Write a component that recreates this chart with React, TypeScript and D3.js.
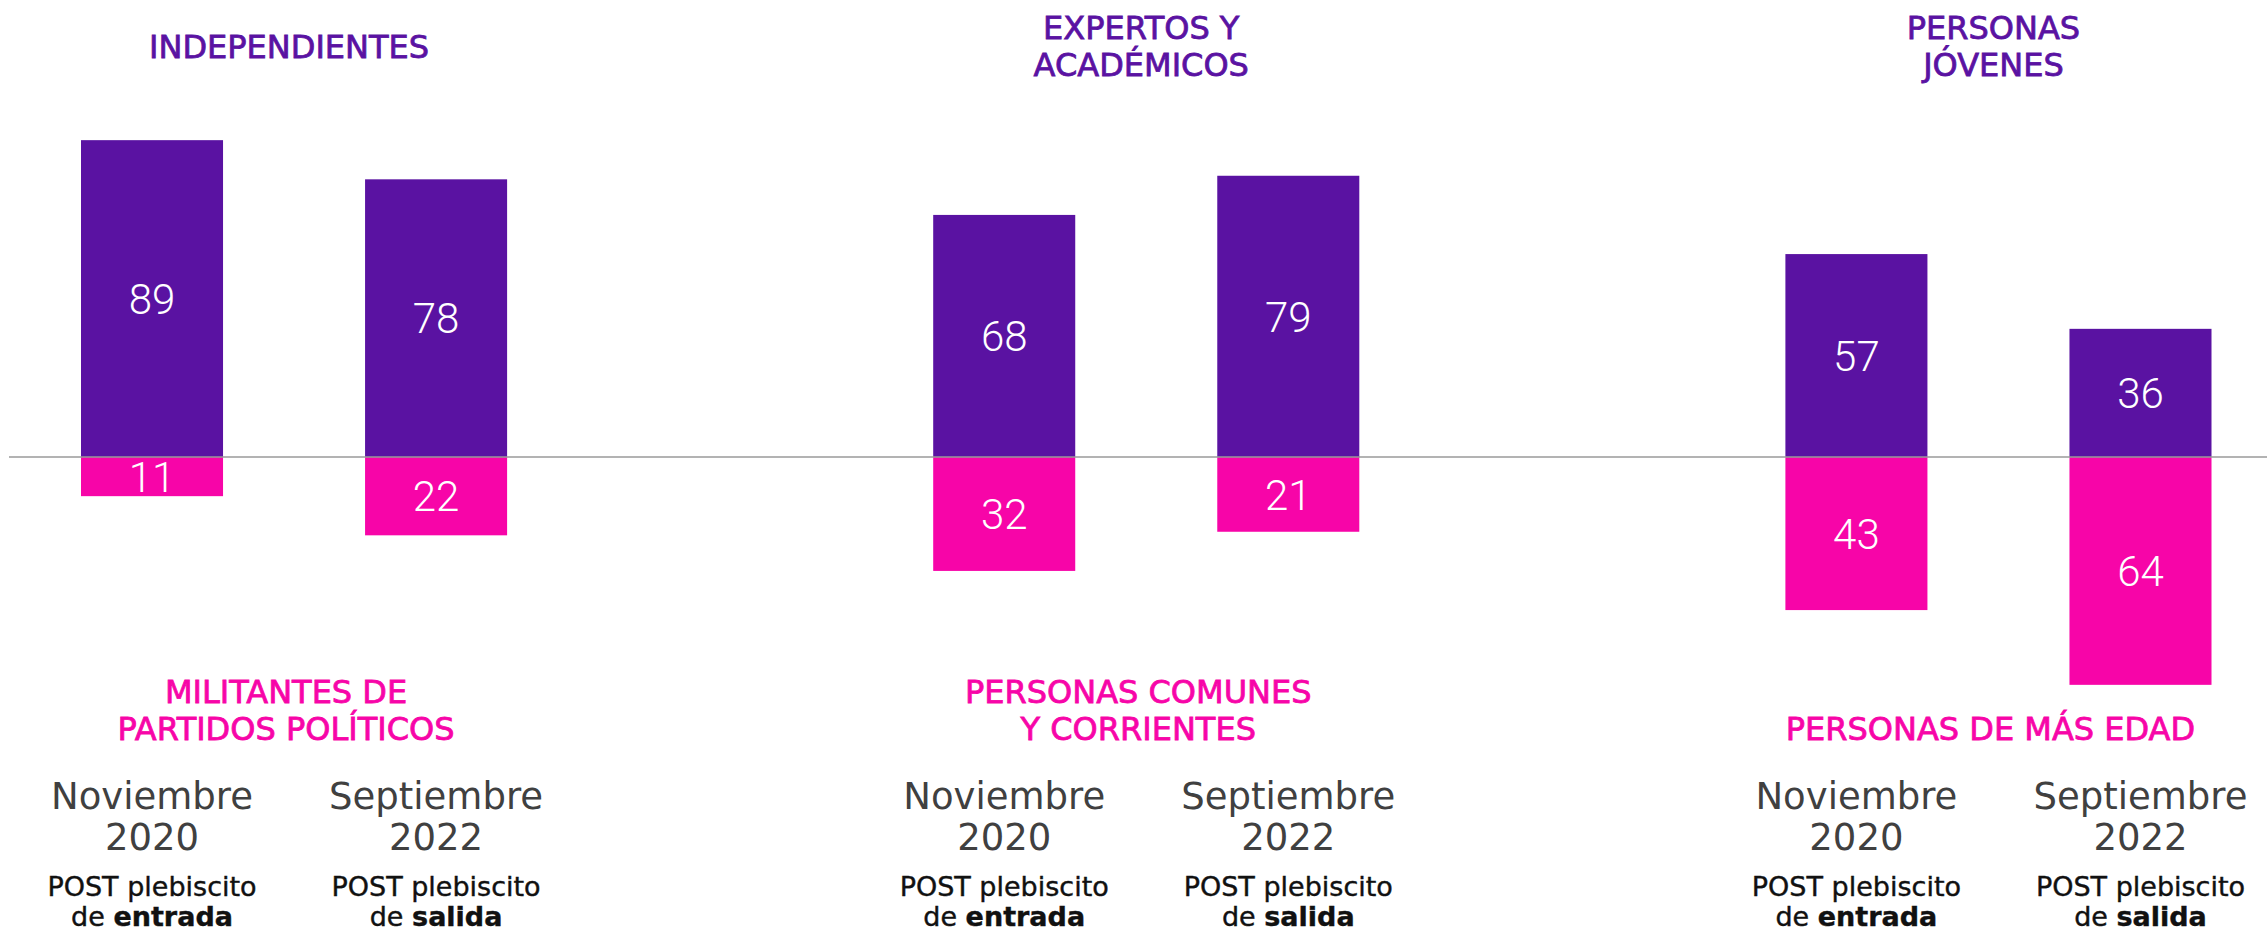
import React from 'react';
import * as d3 from 'd3';

// data
const groups = ['independientes', 'expertos', 'jovenes'];
const topTitles = [['INDEPENDIENTES'], ['EXPERTOS Y', 'ACADÉMICOS'], ['PERSONAS', 'JÓVENES']];
const bottomTitles = [['MILITANTES DE', 'PARTIDOS POLÍTICOS'], ['PERSONAS COMUNES', 'Y CORRIENTES'], ['PERSONAS DE MÁS EDAD']];
const periods = ['nov2020', 'sep2022'];
const periodMonth = ['Noviembre', 'Septiembre'];
const periodYear = ['2020', '2022'];
const periodKind = ['entrada', 'salida'];
const topValues = [[89, 78], [68, 79], [57, 36]];
const bottomValues = [[11, 22], [32, 21], [43, 64]];

const W = 2267, H = 934;
const PURPLE = '#5a12a2';
const PINK = '#f705a8';
const titleFont = '"DejaVu Sans", sans-serif';

const App = () => {
    const baseY = 457;

    const gx = d3.scaleBand()
        .domain(groups)
        .range([81, 2211.5])
        .paddingInner(0.5)
        .paddingOuter(0);

    const bx = d3.scaleBand()
        .domain(periods)
        .range([0, gx.bandwidth()])
        .paddingInner(0.5)
        .paddingOuter(0);

    const y = d3.scaleLinear()
        .domain([-100, 100])
        .range([baseY + 356, baseY - 356]);

    const bars = groups.map(function(g, gi) {
        return periods.map(function(p, pi) {
            const x0 = (gx(g) as number) + (bx(p) as number);
            const bw = bx.bandwidth();
            const cx = x0 + bw / 2;
            const tv = topValues[gi][pi];
            const bv = bottomValues[gi][pi];
            const yTop = y(tv), yBot = y(-bv);
            return (
                <g key={g + p}>
                    <rect fill={PURPLE} x={x0} y={yTop} width={bw} height={y(0) - yTop}/>
                    <rect fill={PINK} x={x0} y={y(0)} width={bw} height={yBot - y(0)}/>
                    <text x={cx} y={(yTop + y(0)) / 2} dy="0.36em" textAnchor="middle"
                          fill="#fff" fontFamily="Roboto, sans-serif" fontWeight={300} fontSize={42}>{tv}</text>
                    <text x={cx} y={(yBot + y(0)) / 2} dy="0.36em" textAnchor="middle"
                          fill="#fff" fontFamily="Roboto, sans-serif" fontWeight={300} fontSize={42}>{bv}</text>
                    <text x={cx} y={809} textAnchor="middle" fill="#404040"
                          fontFamily={titleFont} fontSize={37}>
                        <tspan x={cx}>{periodMonth[pi]}</tspan>
                        <tspan x={cx} dy={41}>{periodYear[pi]}</tspan>
                    </text>
                    <text x={cx} y={896} textAnchor="middle" fill="#111" stroke="#111" strokeWidth={0.4}
                          fontFamily={titleFont} fontSize={27}>
                        <tspan x={cx}>POST plebiscito</tspan>
                        <tspan x={cx} dy={30}>de <tspan fontWeight="bold">{periodKind[pi]}</tspan></tspan>
                    </text>
                </g>
            );
        });
    });

    const titles = groups.map(function(g, gi) {
        const cx = (gx(g) as number) + gx.bandwidth() / 2 - 5;
        const top = topTitles[gi];
        const bottom = bottomTitles[gi];
        const lh = 37.5;
        const topStart = 57.5 - (top.length - 1) * lh / 2;
        const bottomStart = 740 - (bottom.length - 1) * lh;
        return (
            <g key={g}>
                {top.map((t, i) => (
                    <text key={'t' + i} x={cx} y={topStart + i * lh} textAnchor="middle" fill={PURPLE}
                          stroke={PURPLE} strokeWidth={0.8}
                          fontFamily={titleFont} fontSize={32}>{t}</text>
                ))}
                {bottom.map((t, i) => (
                    <text key={'b' + i} x={cx - 3} y={bottomStart + i * lh} textAnchor="middle" fill={PINK}
                          stroke={PINK} strokeWidth={0.8}
                          fontFamily={titleFont} fontSize={32}>{t}</text>
                ))}
            </g>
        );
    });

    return (
        <div style={{ position: 'absolute', left: 0, top: 0 }}>
            <svg width={W} height={H} style={{ display: 'block', background: '#fff' }}>
                {bars}
                <line x1={9} x2={W} y1={y(0)} y2={y(0)} stroke="#9a9a9a" strokeWidth={1.5}/>
                {titles}
            </svg>
        </div>
    );
};

export default App;
